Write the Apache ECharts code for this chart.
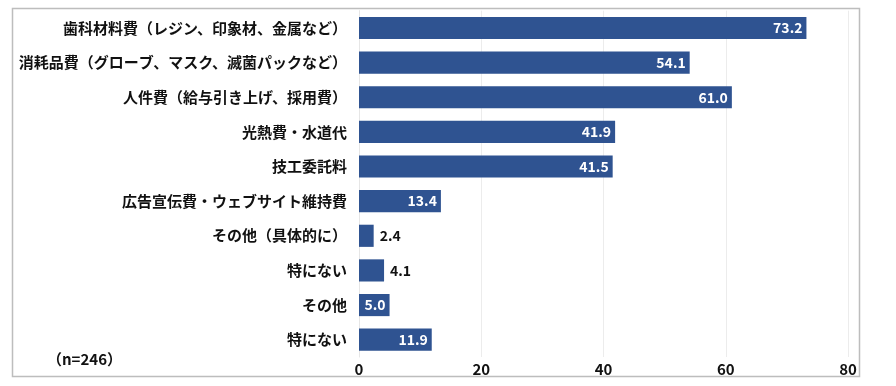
<!DOCTYPE html>
<html><head><meta charset="utf-8">
<script src="https://cdn.jsdelivr.net/npm/echarts@6/dist/echarts.min.js"></script>
<style>html,body{margin:0;padding:0;background:#fff;}#c{width:896px;height:386px;}</style>
</head><body><div id="c"></div>
<script>
const categories = ['歯科材料費（レジン、印象材、金属など）','消耗品費（グローブ、マスク、滅菌パックなど）','人件費（給与引き上げ、採用費）','光熱費・水道代','技工委託料','広告宣伝費・ウェブサイト維持費','その他（具体的に）','特にない','その他','特にない'];
const values = [73.2, 54.1, 61.0, 41.9, 41.5, 13.4, 2.4, 4.1, 5.0, 11.9];
const outsideLabel = [false,false,false,false,false,false,true,true,false,false];
const xTicks = [0, 20, 40, 60, 80];
const note = '（n=246）';
const FONT = '"Noto Sans CJK JP","Noto Sans",sans-serif';
const chart = echarts.init(document.getElementById('c'), null, {renderer:'canvas'});
chart.setOption({
  animation:false,
  textStyle:{fontFamily:FONT},
  grid:{left:359,right:48,top:10.7,bottom:29,containLabel:false},
  xAxis:{type:'value',min:xTicks[0],max:xTicks[xTicks.length-1],interval:20,
    axisLine:{show:false},axisTick:{show:false},
    splitLine:{show:true,lineStyle:{color:'#ececec',width:1}},
    axisLabel:{color:'#111',fontWeight:'bold',fontSize:15,fontFamily:FONT,margin:5}},
  yAxis:{type:'category',data:categories,inverse:true,
    axisLine:{show:true,lineStyle:{color:'#e6e6e6'}},axisTick:{show:false},
    axisLabel:{color:'#111',fontWeight:'bold',fontSize:15,fontFamily:FONT,margin:12}},
  series:[{type:'bar',barWidth:'64%',
    data:values.map((v,i)=>({value:v,label:outsideLabel[i]?{position:'right',color:'#111',distance:6}:{position:'insideRight',color:'#fff',distance:4}})),
    itemStyle:{color:'#2f5391'},
    label:{show:true,fontWeight:'bold',fontSize:14,fontFamily:FONT,formatter:p=>p.value.toFixed(1)}}],
  graphic:[
    {type:'rect',shape:{x:12.5,y:8.5,width:847,height:368},style:{fill:'none',stroke:'#bdbdbd',lineWidth:1.5},z:-1},
    {type:'text',left:47,top:352,style:{text:note,fill:'#111',font:'bold 15px '+FONT}}
  ]
});
</script></body></html>
